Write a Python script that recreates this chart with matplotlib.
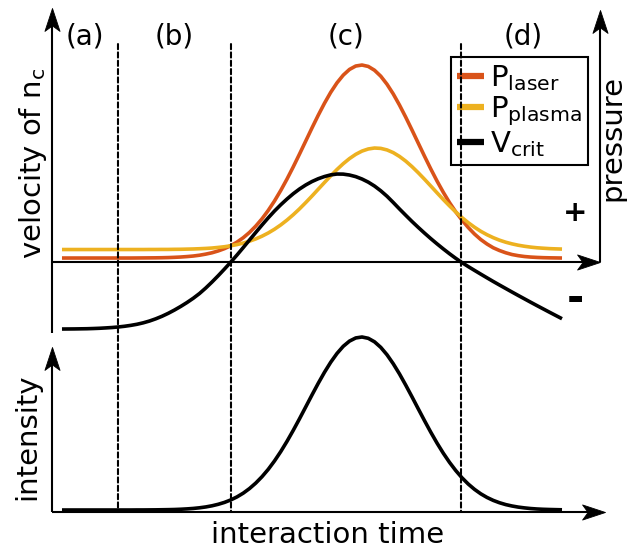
import numpy as np
import matplotlib
matplotlib.use('Agg')
import matplotlib.pyplot as plt
from matplotlib.patches import ConnectionPatch
from matplotlib.path import Path

plt.rcParams['font.family'] = 'DejaVu Sans'
plt.rcParams['mathtext.default'] = 'regular'

# interaction time (a.u.)
t = [0.2, 0.325, 0.45, 0.575, 0.7, 0.825, 0.95, 1.075, 1.2, 1.325,
     1.45, 1.575, 1.7, 1.825, 1.95, 2.075, 2.2, 2.325, 2.45, 2.575,
     2.7, 2.825, 2.95, 3.075, 3.2, 3.325, 3.45, 3.575, 3.7, 3.825,
     3.95, 4.075, 4.2, 4.325, 4.45, 4.575, 4.7, 4.825, 4.95, 5.075,
     5.2, 5.325, 5.45, 5.575, 5.7, 5.825, 5.95, 6.075, 6.2, 6.325,
     6.45, 6.575, 6.7, 6.825, 6.95, 7.075, 7.2, 7.325, 7.45, 7.575,
     7.7, 7.825, 7.95, 8.075, 8.2, 8.325, 8.45, 8.575, 8.7, 8.825,
     8.95, 9.075, 9.2, 9.325, 9.45, 9.575, 9.7, 9.825, 9.95, 10.075,
     10.2]

p_laser = [0.08, 0.08, 0.08, 0.08, 0.08, 0.08, 0.08, 0.08, 0.08, 0.08,
           0.08, 0.08, 0.081, 0.082, 0.083, 0.084, 0.086, 0.089, 0.094, 0.100,
           0.109, 0.120, 0.136, 0.158, 0.185, 0.222, 0.268, 0.326, 0.398, 0.486,
           0.592, 0.718, 0.864, 1.032, 1.221, 1.431, 1.659, 1.903, 2.159, 2.420,
           2.682, 2.936, 3.176, 3.395, 3.584, 3.738, 3.852, 3.920, 3.940, 3.912,
           3.836, 3.717, 3.556, 3.362, 3.139, 2.896, 2.640, 2.378, 2.117, 1.863,
           1.621, 1.396, 1.189, 1.003, 0.839, 0.690, 0.560, 0.450, 0.360, 0.285,
           0.230, 0.185, 0.150, 0.127, 0.110, 0.099, 0.092, 0.087, 0.084, 0.082,
           0.080]

p_plasma = [0.25, 0.25, 0.25, 0.25, 0.25, 0.25, 0.25, 0.25, 0.25, 0.25,
            0.25, 0.25, 0.25, 0.25, 0.251, 0.251, 0.252, 0.252, 0.254, 0.255,
            0.258, 0.261, 0.266, 0.272, 0.280, 0.292, 0.306, 0.325, 0.349, 0.379,
            0.417, 0.462, 0.517, 0.581, 0.656, 0.742, 0.839, 0.946, 1.063, 1.189,
            1.320, 1.456, 1.591, 1.724, 1.851, 1.967, 2.069, 2.154, 2.219, 2.261,
            2.280, 2.273, 2.242, 2.188, 2.112, 2.018, 1.908, 1.786, 1.656, 1.521,
            1.385, 1.251, 1.123, 1.001, 0.889, 0.787, 0.696, 0.615, 0.546, 0.487,
            0.437, 0.396, 0.363, 0.336, 0.315, 0.298, 0.285, 0.276, 0.268, 0.263,
            0.259]

v_crit = [-1.340, -1.339, -1.338, -1.336, -1.334, -1.330, -1.325, -1.318, -1.310, -1.299,
          -1.285, -1.267, -1.245, -1.216, -1.180, -1.136, -1.085, -1.026, -0.960, -0.888,
          -0.810, -0.725, -0.630, -0.520, -0.400, -0.273, -0.140, -0.003, 0.140, 0.289,
          0.440, 0.591, 0.740, 0.884, 1.020, 1.145, 1.260, 1.366, 1.460, 1.541,
          1.610, 1.666, 1.710, 1.743, 1.760, 1.758, 1.740, 1.708, 1.660, 1.598,
          1.520, 1.425, 1.316, 1.191, 1.061, 0.935, 0.811, 0.693, 0.579, 0.469,
          0.364, 0.263, 0.166, 0.074, -0.012, -0.091, -0.167, -0.242, -0.316, -0.389,
          -0.460, -0.530, -0.600, -0.669, -0.737, -0.805, -0.872, -0.938, -1.004, -1.069,
          -1.134]

intensity = [0.04, 0.04, 0.04, 0.04, 0.04, 0.04, 0.04, 0.04, 0.04, 0.04,
             0.04, 0.04, 0.041, 0.041, 0.042, 0.043, 0.045, 0.047, 0.050, 0.055,
             0.062, 0.071, 0.084, 0.101, 0.124, 0.154, 0.192, 0.241, 0.302, 0.377,
             0.469, 0.578, 0.706, 0.853, 1.021, 1.208, 1.413, 1.633, 1.864, 2.102,
             2.341, 2.574, 2.795, 2.996, 3.171, 3.314, 3.418, 3.481, 3.500, 3.474,
             3.404, 3.293, 3.145, 2.965, 2.761, 2.537, 2.303, 2.064, 1.827, 1.597,
             1.379, 1.177, 0.993, 0.829, 0.684, 0.559, 0.453, 0.364, 0.291, 0.232,
             0.185, 0.148, 0.120, 0.098, 0.082, 0.069, 0.060, 0.054, 0.050, 0.047,
             0.044]

# phase boundaries and names
boundaries = [1.32, 3.58, 8.18]
phases = ['(a)', '(b)', '(c)', '(d)']

c_laser = '#D95319'
c_plasma = '#EDB120'

fig = plt.figure(figsize=(6.27, 5.5), dpi=100)
ax_top = fig.add_axes([0.0829, 0.3945, 0.890, 0.5909])
ax_bot = fig.add_axes([0.0829, 0.0691, 0.890, 0.3309])
ax_top.set_xlim(0, 11.16)
ax_top.set_ylim(-1.42, 5.08)
ax_bot.set_xlim(0, 11.16)
ax_bot.set_ylim(0, 3.64)
for ax in (ax_top, ax_bot):
    ax.axis('off')

# swept ("stealth") arrow heads, tip at the marker origin
head_up = Path([(0, 0), (-0.33, -1), (0, -0.76), (0.33, -1), (0, 0)],
               [Path.MOVETO, Path.LINETO, Path.LINETO, Path.LINETO, Path.CLOSEPOLY])
head_right = Path([(0, 0), (-1, 0.33), (-0.76, 0), (-1, -0.33), (0, 0)],
                  [Path.MOVETO, Path.LINETO, Path.LINETO, Path.LINETO, Path.CLOSEPOLY])
head_size = 33


def axis_arrow(ax, start, tip, back):
    # line stops a little short of the tip so it stays hidden under the head
    if start[0] == tip[0]:
        end = (tip[0], tip[1] - back)
        head = head_up
    else:
        end = (tip[0] - back, tip[1])
        head = head_right
    ax.plot([start[0], end[0]], [start[1], end[1]], color='black', lw=1.5,
            solid_capstyle='butt', clip_on=False)
    ax.plot([tip[0]], [tip[1]], marker=head, markersize=head_size, color='black',
            markeredgewidth=0.6, linestyle='none', clip_on=False)


# axes of the upper panel (velocity left, pressure right)
axis_arrow(ax_top, (0, -1.42), (0, 5.08), 0.3)
axis_arrow(ax_top, (0, 0), (10.96, 0), 0.3)
axis_arrow(ax_top, (10.96, 0), (10.96, 5.04), 0.3)
# axes of the lower panel
axis_arrow(ax_bot, (0, 0), (0, 3.3), 0.3)
axis_arrow(ax_bot, (0, 0), (11.06, 0), 0.3)

lw = 2.6
ax_top.plot(t, p_laser, color=c_laser, lw=lw, label=r'$P_{laser}$', solid_capstyle='butt')
ax_top.plot(t, p_plasma, color=c_plasma, lw=lw, label=r'$P_{plasma}$', solid_capstyle='butt')
ax_top.plot(t, v_crit, color='black', lw=lw, label=r'$V_{crit}$', solid_capstyle='butt')
ax_bot.plot(t, intensity, color='black', lw=lw, solid_capstyle='butt')

# dashed phase boundaries running through both panels
for b in boundaries:
    con = ConnectionPatch(xyA=(b, 4.36), coordsA=ax_top.transData,
                          xyB=(b, 0), coordsB=ax_bot.transData,
                          color='black', lw=1.5, linestyle=(0, (2.5, 1.5)))
    fig.add_artist(con)

edges = [0] + boundaries + [10.66]
for i, name in enumerate(phases):
    ax_top.text((edges[i] + edges[i + 1]) / 2, 4.51, name, fontsize=20,
                ha='center', va='center')

ax_top.text(10.46, 0.98, '+', fontsize=21, fontweight='bold', ha='center', va='center')
ax_top.text(10.46, -0.74, '-', fontsize=30, fontweight='bold', ha='center', va='center')

ax_top.text(-0.38, 1.98, r'velocity of $n_c$', fontsize=21, rotation=90,
            ha='center', va='center')
ax_top.text(11.2, 2.48, 'pressure', fontsize=21, rotation=90,
            ha='center', va='center')
ax_bot.text(-0.5, 1.5, 'intensity', fontsize=21, rotation=90,
            ha='center', va='center')
ax_bot.text(5.52, -0.46, 'interaction time', fontsize=21, ha='center', va='center')

leg = ax_top.legend(loc='upper right', bbox_to_anchor=(588 / 627, 1 - 57 / 550),
                    bbox_transform=fig.transFigure, borderaxespad=0,
                    fontsize=21, frameon=True, fancybox=False, framealpha=1,
                    edgecolor='black', handlelength=0.95, handletextpad=0.2,
                    labelspacing=0.05, borderpad=0.2)
leg.get_frame().set_linewidth(1.5)
for line in leg.get_lines():
    line.set_linewidth(4.5)

fig.savefig('out.png', dpi=100)
